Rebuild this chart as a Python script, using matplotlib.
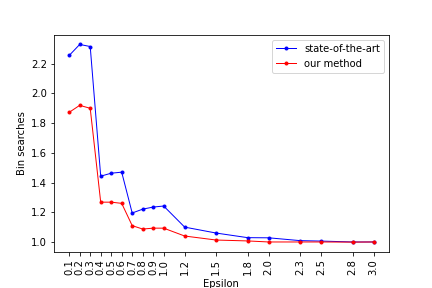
import matplotlib
matplotlib.use("Agg")
import matplotlib.pyplot as plt

eps = [0.1, 0.2, 0.3, 0.4, 0.5, 0.6, 0.7, 0.8, 0.9, 1.0,
       1.2, 1.5, 1.8, 2.0, 2.3, 2.5, 2.8, 3.0]
state_of_art = [2.256, 2.330, 2.316, 1.443, 1.463, 1.470, 1.195, 1.221, 1.235, 1.242,
                1.100, 1.060, 1.029, 1.028, 1.009, 1.006, 1.000, 1.000]
our_method = [1.873, 1.920, 1.900, 1.268, 1.268, 1.260, 1.110, 1.087, 1.093, 1.093,
              1.040, 1.013, 1.007, 1.000, 1.000, 1.000, 0.999, 1.000]

fig = plt.figure(figsize=(6, 4), dpi=72)
ax = fig.add_subplot(111)
fig.subplots_adjust(bottom=0.125)

ax.plot(eps, state_of_art, color="blue", marker=".", linewidth=1, label="state-of-the-art")
ax.plot(eps, our_method, color="red", marker=".", linewidth=1, label="our method")

ax.set_xticks(eps)
ax.set_xticklabels([f"{e:.1f}" for e in eps], rotation=90)
ax.set_xlabel("Epsilon")
ax.set_ylabel("Bin searches")
ax.legend(loc="upper right")

fig.savefig("out.png", dpi=72)
